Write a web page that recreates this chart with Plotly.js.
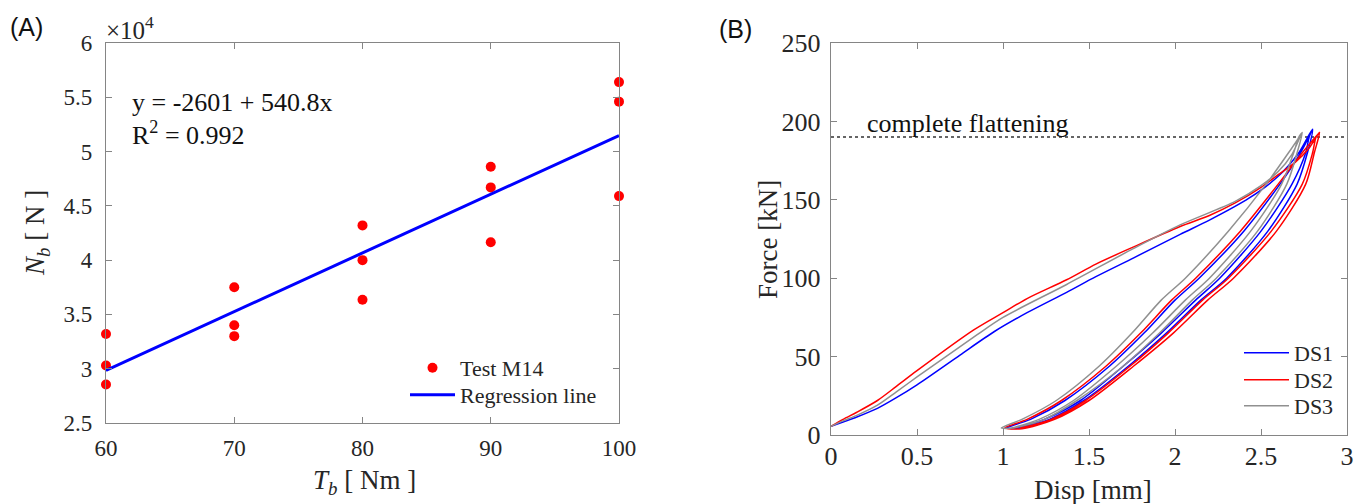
<!DOCTYPE html>
<html>
<head>
<meta charset="utf-8">
<script src="https://cdn.plot.ly/plotly-3.0.1.min.js"></script>
<style>html,body{margin:0;padding:0;background:#fff;}#chart{width:1362px;height:504px;}</style>
</head>
<body>
<div id="chart"></div>
<script>
// ---------- Panel A data ----------
const torqueTb = [60, 60, 60, 70, 70, 70, 80, 80, 80, 90, 90, 90, 100, 100, 100];
const forceNb  = [33200, 30300, 28550, 37500, 34000, 33000, 43200, 40000, 36350, 48600, 46700, 41650, 56400, 54600, 45900];
const regX = [60, 100];
const regY = [29850, 51480];
const yTickVals = [25000, 30000, 35000, 40000, 45000, 50000, 55000, 60000];
const yTickText = ['2.5', '3', '3.5', '4', '4.5', '5', '5.5', '6'];
const xTickValsA = [60, 70, 80, 90, 100];

// ---------- Panel B data (Disp [mm], Force [kN]) ----------
const ds1Disp = [0, 0.07, 0.15, 0.27, 0.38, 0.5, 0.75, 0.95, 1.14, 1.37, 1.54, 1.76, 2.03, 2.2, 2.43, 2.6, 2.72, 2.80,
  2.77, 2.71, 2.54, 2.30, 2.15, 1.95, 1.73, 1.47, 1.27, 1.10,
  1.02, 1.16, 1.36, 1.62, 1.82, 2.00, 2.14, 2.40, 2.61, 2.73, 2.80,
  2.78, 2.76, 2.68, 2.50, 2.26, 2.12, 1.92, 1.70, 1.45, 1.24, 1.08];
const ds1Force = [5.5, 8.3, 11.5, 17, 23.8, 32, 51, 66, 78, 91, 101, 113, 128, 137, 151, 165, 180, 195,
  180, 160, 130, 100, 86, 65, 44, 22, 10, 4.5,
  4.5, 10, 22, 44, 65, 86, 100, 130, 160, 180, 195,
  190, 180, 160, 130, 100, 86, 65, 44, 22, 10, 4.5];

const ds2Disp = [0, 0.07, 0.15, 0.27, 0.38, 0.5, 0.83, 1.0, 1.14, 1.37, 1.54, 1.76, 2.03, 2.2, 2.35, 2.5, 2.6, 2.7, 2.78, 2.84,
  2.81, 2.76, 2.59, 2.34, 2.19, 1.99, 1.76, 1.50, 1.30, 1.11,
  1.01, 1.14, 1.34, 1.60, 1.80, 1.98, 2.12, 2.38, 2.60, 2.74, 2.84,
  2.82, 2.80, 2.74, 2.56, 2.31, 2.16, 1.96, 1.74, 1.48, 1.28, 1.10];
const ds2Force = [5.5, 10, 14.5, 22, 31, 41, 67, 78, 87, 99, 109, 120, 133, 140, 148, 158, 166, 174, 183, 193,
  180, 160, 130, 100, 86, 65, 44, 22, 10, 4,
  4.5, 10, 22, 44, 65, 86, 100, 130, 160, 180, 193,
  190, 180, 160, 130, 100, 86, 65, 44, 22, 10, 4.5];

const ds3Disp = [0, 0.07, 0.15, 0.27, 0.38, 0.5, 0.85, 1.0, 1.37, 1.76, 2.03, 2.35, 2.5, 2.6, 2.68, 2.74,
  2.71, 2.65, 2.48, 2.24, 2.10, 1.91, 1.70, 1.43, 1.24, 1.06,
  0.99, 1.11, 1.31, 1.56, 1.75, 1.92, 2.06, 2.31, 2.53, 2.66, 2.74,
  2.72, 2.69, 2.62, 2.44, 2.20, 2.06, 1.87, 1.66, 1.41, 1.21, 1.05];
const ds3Force = [5.5, 9, 12.5, 19, 27.5, 37, 64, 75, 96, 119, 134, 149, 159, 168, 179, 193,
  180, 160, 130, 100, 86, 65, 44, 22, 10, 4.5,
  4.5, 10, 22, 44, 65, 86, 100, 130, 160, 180, 193,
  190, 180, 160, 130, 100, 86, 65, 44, 22, 10, 4.5];

const flatX = [0, 3];
const flatY = [190, 190];

const serif = 'Liberation Serif';
const txt = '#262626';
const axCol = '#858585';

const traces = [
  {x: torqueTb, y: forceNb, type: 'scatter', mode: 'markers', name: 'Test M14',
   marker: {color: '#ff0000', size: 10}, cliponaxis: false, xaxis: 'x', yaxis: 'y', legend: 'legend'},
  {x: regX, y: regY, type: 'scatter', mode: 'lines', name: 'Regression line',
   line: {color: '#0000ff', width: 3}, xaxis: 'x', yaxis: 'y', legend: 'legend3'},
  {x: flatX, y: flatY, type: 'scatter', mode: 'lines', showlegend: false,
   line: {color: '#333333', width: 1.5, dash: 'dot'}, xaxis: 'x2', yaxis: 'y2'},
  {x: ds1Disp, y: ds1Force, type: 'scatter', mode: 'lines', name: 'DS1',
   line: {color: '#0000ff', width: 1.5, shape: 'spline', smoothing: 0.8}, xaxis: 'x2', yaxis: 'y2', legend: 'legend2'},
  {x: ds2Disp, y: ds2Force, type: 'scatter', mode: 'lines', name: 'DS2',
   line: {color: '#ff0000', width: 1.5, shape: 'spline', smoothing: 0.8}, xaxis: 'x2', yaxis: 'y2', legend: 'legend4'},
  {x: ds3Disp, y: ds3Force, type: 'scatter', mode: 'lines', name: 'DS3',
   line: {color: '#909090', width: 1.5, shape: 'spline', smoothing: 0.8}, xaxis: 'x2', yaxis: 'y2', legend: 'legend5'}
];

function ax(extra) {
  return Object.assign({
    showline: true, mirror: 'ticks', linecolor: axCol, linewidth: 1.2,
    ticks: 'inside', ticklen: 6, tickcolor: axCol, tickwidth: 1,
    showgrid: false, zeroline: false, fixedrange: true,
    tickfont: {family: serif, size: 23, color: txt}
  }, extra);
}

const W = 1362, H = 504;
function leg(xpx, ypx) {
  return {x: xpx / W, y: 1 - ypx / H, xanchor: 'left', yanchor: 'middle', bgcolor: 'rgba(0,0,0,0)',
    font: {family: serif, size: 22, color: txt}, itemwidth: 45};
}
const layout = {
  width: W, height: H,
  margin: {l: 0, r: 0, t: 0, b: 0},
  paper_bgcolor: '#ffffff', plot_bgcolor: '#ffffff',
  font: {family: serif, color: txt, size: 22},
  xaxis: ax({domain: [106 / W, 619 / W], range: [60, 100], tickvals: xTickValsA, anchor: 'y', ticklabelstandoff: 4}),
  yaxis: ax({domain: [1 - 423 / H, 1 - 43 / H], range: [25000, 60000], tickvals: yTickVals, ticktext: yTickText, anchor: 'x', ticklabelstandoff: 8}),
  xaxis2: ax({domain: [831 / W, 1347 / W], range: [0, 3], dtick: 0.5, tick0: 0, anchor: 'y2', ticklabelstandoff: -2,
    tickfont: {family: serif, size: 26, color: txt}}),
  yaxis2: ax({domain: [1 - 435 / H, 1 - 43 / H], range: [0, 250], dtick: 50, tick0: 0, anchor: 'x2', ticklabelstandoff: 4,
    tickfont: {family: serif, size: 26, color: txt}}),
  legend: leg(405, 368),
  legend3: leg(405, 395),
  legend2: leg(1239, 353),
  legend4: leg(1239, 380),
  legend5: leg(1239, 406),
  annotations: [
    {text: '(A)', xref: 'paper', yref: 'paper', x: 26 / W, y: 1 - 27 / H, xanchor: 'center', yanchor: 'middle',
     showarrow: false, font: {family: 'Liberation Sans', size: 25, color: '#111'}},
    {text: '(B)', xref: 'paper', yref: 'paper', x: 735 / W, y: 1 - 29 / H, xanchor: 'center', yanchor: 'middle',
     showarrow: false, font: {family: 'Liberation Sans', size: 25, color: '#111'}},
    {text: '×10<sup>4</sup>', xref: 'paper', yref: 'paper', x: 104 / W, y: 1 - 28 / H, xanchor: 'left', yanchor: 'middle',
     showarrow: false, font: {family: serif, size: 25, color: txt}},
    {text: 'y = -2601 + 540.8x', xref: 'paper', yref: 'paper', x: 130 / W, y: 1 - 103 / H, xanchor: 'left', yanchor: 'middle',
     showarrow: false, font: {family: serif, size: 26, color: '#111'}},
    {text: 'R<sup>2</sup> = 0.992', xref: 'paper', yref: 'paper', x: 130 / W, y: 1 - 134 / H, xanchor: 'left', yanchor: 'middle',
     showarrow: false, font: {family: serif, size: 26, color: '#111'}},
    {text: '<i>N</i><sub><i>b</i></sub> [ N ]', xref: 'paper', yref: 'paper', x: 37 / W, y: 1 - 233 / H, xanchor: 'center', yanchor: 'middle',
     textangle: -90, showarrow: false, font: {family: serif, size: 27, color: txt}},
    {text: '<i>T</i><sub><i>b</i></sub> [ Nm ]', xref: 'paper', yref: 'paper', x: 365 / W, y: 1 - 482 / H, xanchor: 'center', yanchor: 'middle',
     showarrow: false, font: {family: serif, size: 27, color: txt}},
    {text: 'Force [kN]', xref: 'paper', yref: 'paper', x: 768 / W, y: 1 - 240 / H, xanchor: 'center', yanchor: 'middle',
     textangle: -90, showarrow: false, font: {family: serif, size: 27, color: txt}},
    {text: 'Disp [mm]', xref: 'paper', yref: 'paper', x: 1093 / W, y: 1 - 490 / H, xanchor: 'center', yanchor: 'middle',
     showarrow: false, font: {family: serif, size: 27, color: txt}},
    {text: 'complete flattening', xref: 'x2', yref: 'y2', x: 0.2, y: 198.5, xanchor: 'left', yanchor: 'middle',
     showarrow: false, font: {family: serif, size: 26, color: '#111'}}
  ]
};

Plotly.newPlot('chart', traces, layout, {displayModeBar: false, staticPlot: true});
</script>
</body>
</html>
